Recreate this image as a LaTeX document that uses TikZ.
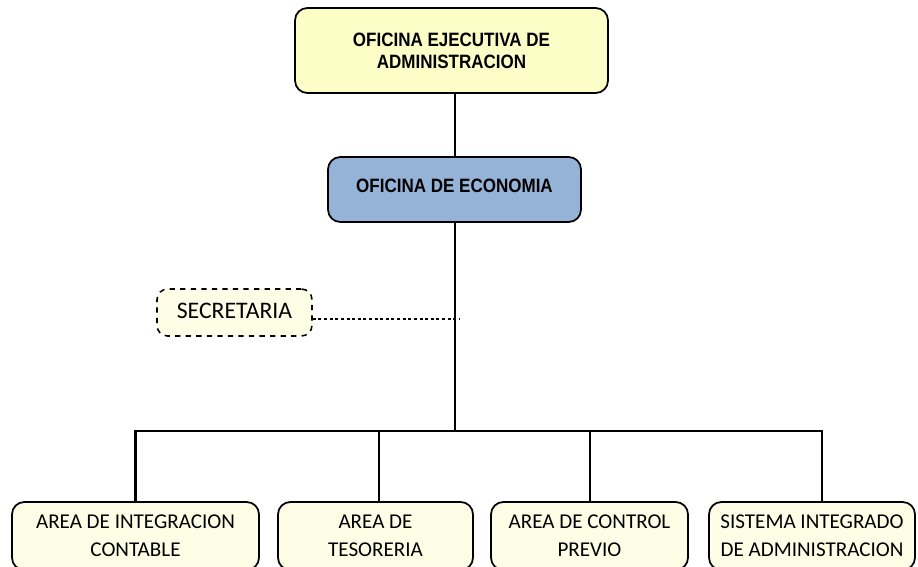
\documentclass[tikz,border=0pt]{standalone}
\usepackage{fontspec}
\setmainfont{Carlito}
\newfontfamily\arialfont{Liberation Sans}[FakeStretch=0.88]
\usepackage{tikz}
\definecolor{Amar}{RGB}{253,253,200}
\definecolor{Amar1}{RGB}{254,254,230}
\definecolor{Azul}{RGB}{149,179,215}
\tikzset{
    jefe/.style={draw=black, line width=1pt, rounded corners=7pt, align=center,
                 font=\arialfont\bfseries\fontsize{11}{12.5}\selectfont},
    area/.style={draw=black, line width=1pt, rounded corners=7pt, fill=Amar1,
                 align=center, minimum height=1.36cm, font=\fontsize{12}{16}\selectfont},
    linea/.style={line width=1.15pt}
}
\begin{document}
\begin{tikzpicture}[x=0.02cm, y=-0.02cm]
    \useasboundingbox (0,0) rectangle (918,567);
    \node [jefe, fill=Amar, minimum width=6.26cm, minimum height=1.7cm] (oea) at (451.5,50.5)
            {OFICINA EJECUTIVA DE\\ADMINISTRACION};
    \node [jefe, fill=Azul, minimum width=5.06cm, minimum height=1.3cm] (eco) at (454.5,189.5)
            {\raisebox{0.15cm}{OFICINA DE ECONOMIA}};
    \node [draw=black, dashed, line width=0.9pt, rounded corners=6pt, fill=Amar1,
           minimum width=3.1cm, minimum height=0.94cm, font=\fontsize{13.5}{16}\selectfont]
            (secr) at (234.5,312.5) {\raisebox{0.08cm}{SECRETARIA}};
    \node [area, minimum width=4.94cm] (integ) at (135.5,536) {AREA DE INTEGRACION\\CONTABLE};
    \node [area, minimum width=3.9cm] (teso) at (375.5,536) {AREA DE\\TESORERIA};
    \node [area, minimum width=3.94cm] (ctrl) at (589.5,536) {AREA DE CONTROL\\PREVIO};
    \node [area, minimum width=4.12cm] (siaf) at (812,536) {SISTEMA INTEGRADO\\DE ADMINISTRACION};
    \coordinate (bus) at (455,431);
    \coordinate (sec) at (459,319);
    \draw [linea] (oea.south -| bus) -- (eco.north -| bus);
    \draw [linea] (eco.south -| bus) -- (bus);
    \draw [line width=0.6pt, dash pattern=on 1.7pt off 1.5pt] (secr.east |- sec) -- (sec);
    \draw [linea] (integ.north) |- (bus);
    \draw [linea] ([xshift=0.07cm]teso.north) |- (bus);
    \draw [linea] (ctrl.north) |- (bus);
    \draw [linea] ([xshift=0.2cm]siaf.north) |- (bus);
\end{tikzpicture}
\end{document}
